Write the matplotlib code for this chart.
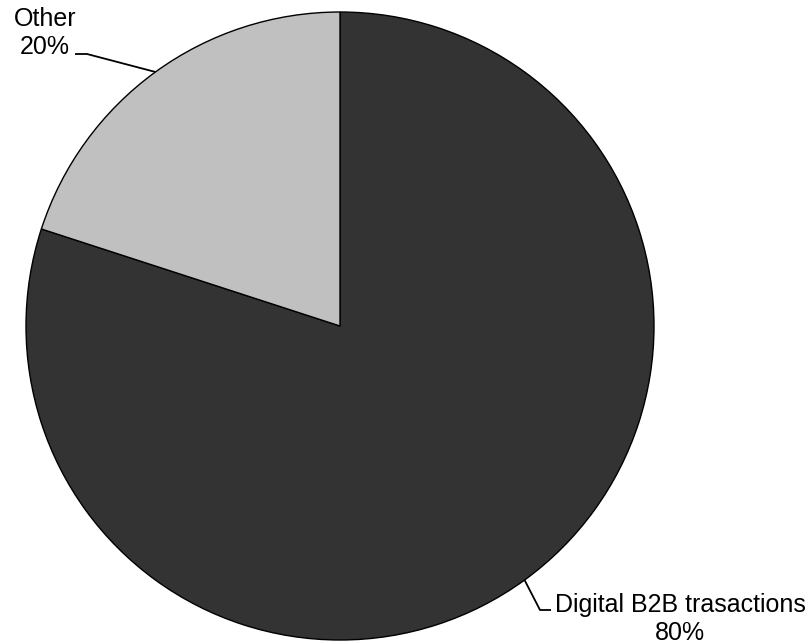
import matplotlib.pyplot as plt
import numpy as np

labels = ['Digital B2B trasactions', 'Other']
values = [80, 20]
colors = ['#333333', '#c0c0c0']

plt.rcParams['font.family'] = ['Liberation Sans', 'DejaVu Sans']

W, H = 811, 644
fig = plt.figure(figsize=(W / 100, H / 100), dpi=100)
ax = fig.add_axes([0, 0, 1, 1])
ax.set_xlim(0, W)
ax.set_ylim(0, H)
ax.set_aspect('equal')
ax.axis('off')

cx, cy, r = 340, H - 326, 314
wedges, _ = ax.pie(values, colors=colors, startangle=90, counterclock=False,
                   center=(cx, cy), radius=r,
                   wedgeprops=dict(edgecolor='black', linewidth=1))
ax.set_xlim(0, W)
ax.set_ylim(0, H)

# label positions (pixel coords from top)
lab_pos = {
    'Digital B2B trasactions': dict(elbow=[(540, 610), (551, 610)], text=(680, 619)),
    'Other': dict(elbow=[(87, 54), (75, 54)], text=(45, 33)),
}

for w, lab, v in zip(wedges, labels, values):
    mid = np.deg2rad((w.theta1 + w.theta2) / 2)
    ex, ey = cx + r * np.cos(mid), cy + r * np.sin(mid)
    pts = [(ex, ey)] + [(x, H - y) for x, y in lab_pos[lab]['elbow']]
    xs, ys = zip(*pts)
    ax.plot(xs, ys, color='black', linewidth=1.3, solid_capstyle='butt')
    tx, ty = lab_pos[lab]['text']
    ax.text(tx, H - ty, f'{lab}\n{v}%', ha='center', va='center',
            fontsize=18, linespacing=1.22, color='black')

fig.savefig('out.png', dpi=100)
